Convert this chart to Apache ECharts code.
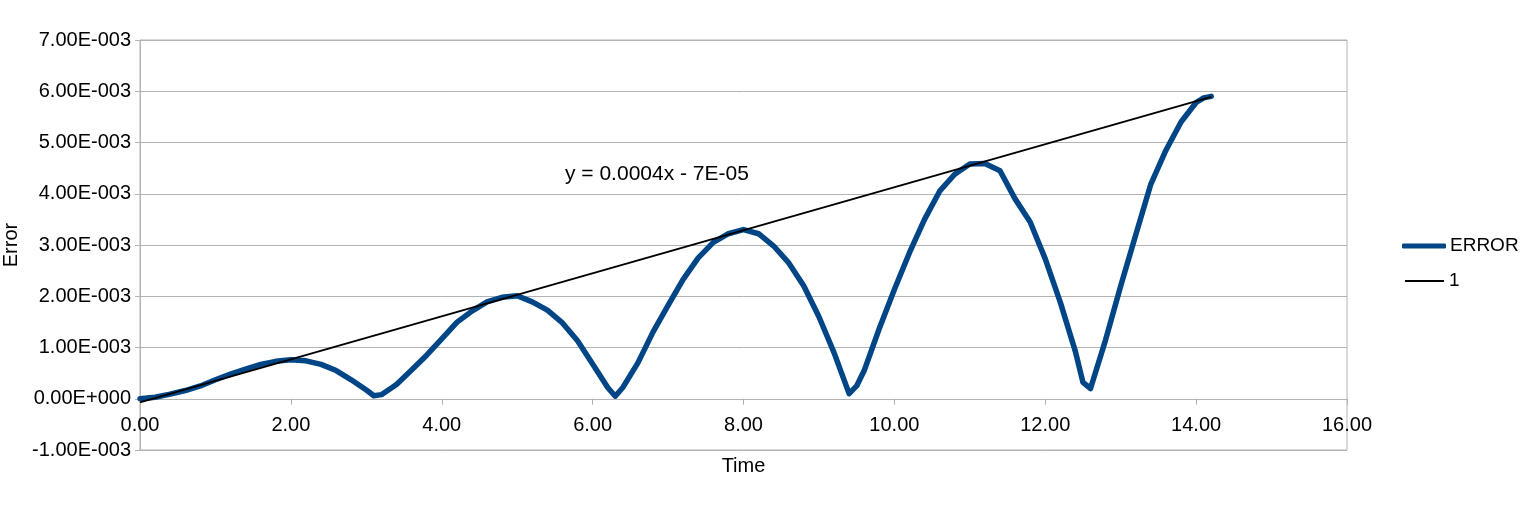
<!DOCTYPE html>
<html>
<head>
<meta charset="utf-8">
<script src="https://cdn.jsdelivr.net/npm/echarts@6/dist/echarts.min.js"></script>
<style>html,body{margin:0;padding:0;background:#fff;}#c{width:1539px;height:519px;}</style>
</head>
<body>
<div id="c"></div>
<script>
// Time values
var time = [0, 0.2, 0.4, 0.6, 0.8, 1.0, 1.2, 1.4, 1.6, 1.8, 2.0, 2.2, 2.4, 2.6, 2.8, 3.0, 3.1, 3.2, 3.4, 3.6, 3.8,
  4.0, 4.2, 4.4, 4.6, 4.8, 5.0, 5.2, 5.4, 5.6, 5.8, 6.0, 6.2, 6.3, 6.4, 6.6, 6.8, 7.0, 7.2, 7.4, 7.6, 7.8,
  8.0, 8.2, 8.4, 8.6, 8.8, 9.0, 9.2, 9.3, 9.4, 9.5, 9.6, 9.8, 10.0, 10.2, 10.4, 10.6, 10.8, 11.0, 11.2,
  11.4, 11.6, 11.8, 12.0, 12.2, 12.4, 12.5, 12.6, 12.8, 13.0, 13.2, 13.4, 13.6, 13.8, 14.0, 14.1, 14.2];
// ERROR values
var errorVals = [0, 0.00003, 0.00009, 0.00016, 0.00025, 0.00037, 0.00048, 0.00058, 0.00067, 0.00073, 0.00076, 0.00074,
  0.00067, 0.00055, 0.00037, 0.00017, 0.00006, 0.00008, 0.00028, 0.00056, 0.00085,
  0.00117, 0.00149, 0.00171, 0.00189, 0.00198, 0.00201, 0.00189, 0.00173, 0.00148, 0.00113, 0.00068, 0.00022, 0.00005,
  0.00022, 0.00070, 0.00130, 0.00182, 0.00233, 0.00275, 0.00305, 0.00322,
  0.00330, 0.00322, 0.00298, 0.00265, 0.00220, 0.00160, 0.00090, 0.00050, 0.00010, 0.00025, 0.00055, 0.00137,
  0.00213, 0.00285, 0.00350, 0.00405, 0.00438, 0.00458, 0.00459,
  0.00445, 0.00390, 0.00345, 0.00273, 0.00188, 0.00092, 0.00032, 0.00020, 0.00115, 0.00220, 0.00320, 0.00419,
  0.00485, 0.00540, 0.00578, 0.00587, 0.00590];
// Trendline "1" endpoints
var trendTime = [0, 14.2];
var trendVals = [-0.00007, 0.00589];
var trendLabel = 'y = 0.0004x - 7E-05';

function sci(v) {
  v = Math.round(v * 1e9) / 1e9;
  if (Math.abs(v) < 1e-12) return '0.00E+000';
  var a = Math.abs(v);
  var e = Math.floor(Math.log10(a) + 1e-9);
  var m = v / Math.pow(10, e);
  var es = String(Math.abs(e));
  while (es.length < 3) es = '0' + es;
  return m.toFixed(2) + 'E' + (e < 0 ? '-' : '+') + es;
}

var errData = time.map(function (t, i) { return [t, errorVals[i]]; });
var trendData = trendTime.map(function (t, i) { return [t, trendVals[i]]; });

var chart = echarts.init(document.getElementById('c'), null, {renderer: 'canvas'});
var font = 'Liberation Sans, Arial, sans-serif';
var fs = 20;
chart.setOption({
  animation: false,
  textStyle: {fontFamily: font},
  grid: {left: 140, right: 192, top: 40, bottom: 69, show: true, borderColor: '#b3b3b3', borderWidth: 1,
         outerBoundsMode: 'none', containLabel: false},
  legend: [
    {
      orient: 'vertical', left: 1402, top: 236, padding: 0, itemWidth: 44, itemHeight: 5, icon: 'roundRect',
      textStyle: {fontSize: 19, color: '#000', fontFamily: font, lineHeight: 20, padding: [0, 0, 0, -1]},
      data: [{name: 'ERROR', icon: 'roundRect'}]
    },
    {
      orient: 'vertical', left: 1405, top: 271, padding: 0, itemWidth: 39, itemHeight: 2, icon: 'rect',
      textStyle: {fontSize: 19, color: '#000', fontFamily: font, lineHeight: 20},
      data: [{name: '1', icon: 'rect'}]
    }
  ],
  xAxis: {
    type: 'value', min: 0, max: 16, interval: 2,
    name: 'Time', nameLocation: 'middle', nameGap: 6,
    nameTextStyle: {fontSize: fs, color: '#000', fontFamily: font},
    axisLine: {show: true, onZero: true, lineStyle: {color: '#b3b3b3'}},
    axisTick: {show: true, length: 6, lineStyle: {color: '#b3b3b3'}},
    axisLabel: {fontSize: fs, color: '#000', margin: -35, formatter: function (v) { return v.toFixed(2); }},
    splitLine: {show: false}
  },
  yAxis: {
    type: 'value', min: -0.001, max: 0.007, interval: 0.001,
    name: 'Error', nameLocation: 'middle', nameGap: 107,
    nameTextStyle: {fontSize: fs, color: '#000', fontFamily: font},
    axisLine: {show: true, lineStyle: {color: '#b3b3b3'}},
    axisTick: {show: true, length: 5, lineStyle: {color: '#b3b3b3'}},
    axisLabel: {fontSize: fs, color: '#000', margin: 9, formatter: sci},
    splitLine: {show: true, lineStyle: {color: '#b3b3b3', width: 1}}
  },
  series: [
    {
      name: 'ERROR', type: 'line', data: errData, symbol: 'none', smooth: false,
      lineStyle: {color: '#004586', width: 5.5, cap: 'round', join: 'round'},
      itemStyle: {color: '#004586'}, z: 2
    },
    {
      name: '1', type: 'line', data: trendData, symbol: 'none',
      lineStyle: {color: '#000000', width: 2},
      itemStyle: {color: '#000000'}, z: 3
    }
  ],
  graphic: [
    {type: 'text', left: 565, top: 164, style: {text: trendLabel, fill: '#000', font: '21px ' + font}}
  ]
});
</script>
</body>
</html>
